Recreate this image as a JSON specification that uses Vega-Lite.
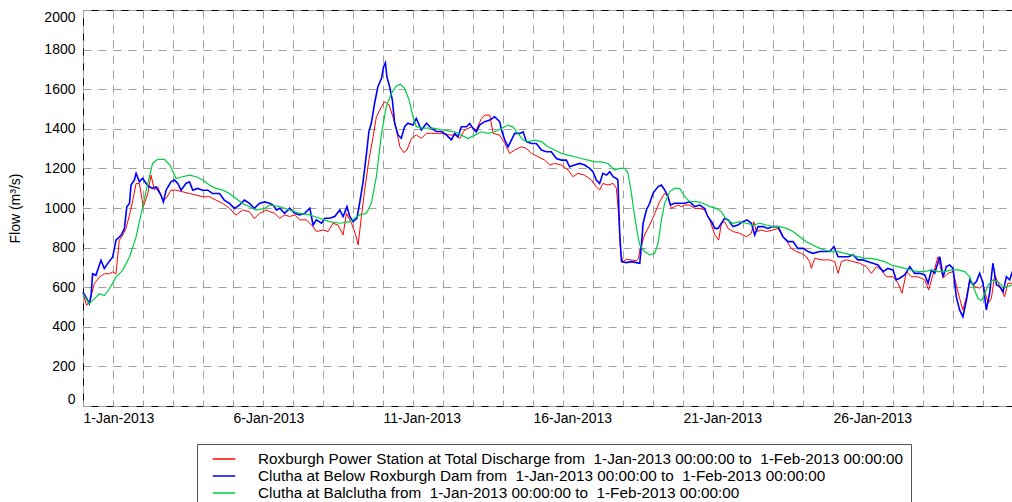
{
  "$schema": "https://vega.github.io/schema/vega-lite/v6.json",
  "width": 930,
  "height": 396,
  "autosize": "none",
  "padding": {"left": 83, "top": 10, "right": 0, "bottom": 96},
  "background": "white",
  "config": {
    "font": "Liberation Sans",
    "view": {"stroke": "#000", "strokeWidth": 1},
    "axis": {
      "labelFont": "Liberation Sans", "labelFontSize": 14, "labelColor": "#000",
      "titleFont": "Liberation Sans", "titleFontSize": 14, "titleFontWeight": "normal", "titleColor": "#000",
      "grid": true, "gridColor": "#a0a0a0", "gridDash": [8, 7], "gridWidth": 1,
      "ticks": false, "tickSize": 0, "domain": false
    }
  },
  "datasets": {
    "roxburgh_ps": [
      {"day":0,"flow":567},{"day":0.12,"flow":508},{"day":0.23,"flow":533},{"day":0.38,"flow":618},{"day":0.55,"flow":651},{"day":0.71,"flow":668},{"day":0.88,"flow":668},{"day":0.99,"flow":677},{"day":1.1,"flow":668},{"day":1.21,"flow":837},{"day":1.32,"flow":862},{"day":1.43,"flow":896},{"day":1.55,"flow":964},{"day":1.66,"flow":1040},{"day":1.77,"flow":1124},{"day":1.88,"flow":1124},{"day":2.01,"flow":1006},{"day":2.16,"flow":1073},{"day":2.27,"flow":1166},{"day":2.38,"flow":1090},{"day":2.49,"flow":1107},{"day":2.66,"flow":1040},{"day":2.77,"flow":1048},{"day":2.93,"flow":1090},{"day":3.1,"flow":1090},{"day":3.32,"flow":1082},{"day":3.55,"flow":1073},{"day":3.77,"flow":1065},{"day":3.99,"flow":1057},{"day":4.21,"flow":1057},{"day":4.43,"flow":1040},{"day":4.66,"flow":1023},{"day":4.88,"flow":998},{"day":5.1,"flow":964},{"day":5.32,"flow":990},{"day":5.55,"flow":981},{"day":5.71,"flow":947},{"day":5.88,"flow":972},{"day":6.1,"flow":990},
      {"day":6.22,"flow":982},{"day":6.39,"flow":973},{"day":6.56,"flow":948},{"day":6.72,"flow":965},{"day":6.89,"flow":957},{"day":7.06,"flow":965},{"day":7.22,"flow":940},{"day":7.45,"flow":940},{"day":7.67,"flow":906},{"day":7.78,"flow":881},{"day":8.0,"flow":889},{"day":8.17,"flow":881},{"day":8.33,"flow":923},{"day":8.5,"flow":914},{"day":8.67,"flow":864},{"day":8.78,"flow":973},{"day":8.95,"flow":923},{"day":9.09,"flow":864},{"day":9.17,"flow":813},{"day":9.28,"flow":957},{"day":9.39,"flow":1091},{"day":9.53,"flow":1243},{"day":9.67,"flow":1360},{"day":9.78,"flow":1461},{"day":9.95,"flow":1512},{"day":10.06,"flow":1537},{"day":10.2,"flow":1520},{"day":10.33,"flow":1461},{"day":10.45,"flow":1394},{"day":10.56,"flow":1310},{"day":10.69,"flow":1280},{"day":10.8,"flow":1293},{"day":10.95,"flow":1352},{"day":11.11,"flow":1369},{"day":11.28,"flow":1352},{"day":11.45,"flow":1377},{"day":11.61,"flow":1377},{"day":11.78,"flow":1377},{"day":12.0,"flow":1377},{"day":12.22,"flow":1369},
      {"day":12.39,"flow":1368},{"day":12.56,"flow":1351},{"day":12.72,"flow":1394},{"day":12.95,"flow":1410},{"day":13.11,"flow":1394},{"day":13.28,"flow":1452},{"day":13.39,"flow":1469},{"day":13.56,"flow":1469},{"day":13.67,"flow":1377},{"day":13.89,"flow":1368},{"day":14.06,"flow":1326},{"day":14.22,"flow":1276},{"day":14.39,"flow":1293},{"day":14.61,"flow":1309},{"day":14.78,"flow":1301},{"day":14.95,"flow":1276},{"day":15.17,"flow":1259},{"day":15.39,"flow":1242},{"day":15.56,"flow":1217},{"day":15.72,"flow":1225},{"day":15.95,"flow":1217},{"day":16.17,"flow":1192},{"day":16.33,"flow":1158},{"day":16.5,"flow":1175},{"day":16.72,"flow":1166},{"day":16.95,"flow":1141},{"day":17.11,"flow":1107},{"day":17.22,"flow":1091},{"day":17.33,"flow":1124},{"day":17.5,"flow":1116},{"day":17.67,"flow":1124},{"day":17.78,"flow":1099},{"day":17.86,"flow":956},{"day":17.92,"flow":771},{"day":18.0,"flow":729},{"day":18.11,"flow":741},{"day":18.28,"flow":737},{"day":18.45,"flow":734},{"day":18.52,"flow":746},
      {"day":18.56,"flow":788},{"day":18.72,"flow":864},{"day":18.89,"flow":914},{"day":19.06,"flow":973},{"day":19.22,"flow":1032},{"day":19.39,"flow":1074},{"day":19.5,"flow":1057},{"day":19.61,"flow":998},{"day":19.72,"flow":1007},{"day":19.83,"flow":1015},{"day":19.95,"flow":1007},{"day":20.06,"flow":1015},{"day":20.22,"flow":1015},{"day":20.39,"flow":998},{"day":20.56,"flow":998},{"day":20.72,"flow":990},{"day":20.89,"flow":940},{"day":21.06,"flow":864},{"day":21.19,"flow":838},{"day":21.28,"flow":923},{"day":21.39,"flow":931},{"day":21.5,"flow":897},{"day":21.67,"flow":881},{"day":21.89,"flow":872},{"day":22.11,"flow":855},{"day":22.28,"flow":872},{"day":22.36,"flow":931},{"day":22.45,"flow":881},{"day":22.61,"flow":889},{"day":22.78,"flow":881},{"day":23.0,"flow":889},{"day":23.17,"flow":897},{"day":23.33,"flow":855},{"day":23.47,"flow":830},{"day":23.61,"flow":796},{"day":23.78,"flow":780},{"day":23.95,"flow":771},{"day":24.11,"flow":754},{"day":24.22,"flow":729},{"day":24.28,"flow":695},{"day":24.39,"flow":746},{"day":24.61,"flow":738},
      {"day":24.72,"flow":738},{"day":24.89,"flow":738},{"day":25.06,"flow":729},{"day":25.17,"flow":670},{"day":25.28,"flow":729},{"day":25.45,"flow":738},{"day":25.67,"flow":729},{"day":25.89,"flow":721},{"day":26.11,"flow":704},{"day":26.28,"flow":670},{"day":26.45,"flow":704},{"day":26.61,"flow":687},{"day":26.78,"flow":653},{"day":27.0,"flow":653},{"day":27.17,"flow":620},{"day":27.3,"flow":569},{"day":27.45,"flow":679},{"day":27.61,"flow":653},{"day":27.83,"flow":653},{"day":28.06,"flow":637},{"day":28.19,"flow":586},{"day":28.33,"flow":662},{"day":28.5,"flow":754},{"day":28.67,"flow":645},{"day":28.83,"flow":670},{"day":29.0,"flow":679},{"day":29.11,"flow":611},{"day":29.22,"flow":544},{"day":29.33,"flow":485},{"day":29.45,"flow":552},{"day":29.56,"flow":637},{"day":29.72,"flow":603},{"day":29.89,"flow":595},{"day":30.0,"flow":611},{"day":30.17,"flow":519},{"day":30.28,"flow":544},{"day":30.39,"flow":662},{"day":30.56,"flow":603},{"day":30.72,"flow":552},{"day":30.83,"flow":620},{"day":30.96,"flow":620},{"day":31.0,"flow":625}
    ],
    "below_dam": [
      {"day":0,"flow":575},{"day":0.1,"flow":550},{"day":0.21,"flow":516},{"day":0.27,"flow":558},{"day":0.32,"flow":668},{"day":0.43,"flow":660},{"day":0.6,"flow":736},{"day":0.71,"flow":694},{"day":0.82,"flow":719},{"day":0.99,"flow":753},{"day":1.1,"flow":837},{"day":1.27,"flow":862},{"day":1.38,"flow":896},{"day":1.46,"flow":1006},{"day":1.55,"flow":1023},{"day":1.6,"flow":1116},{"day":1.71,"flow":1141},{"day":1.77,"flow":1175},{"day":1.88,"flow":1132},{"day":1.99,"flow":1150},{"day":2.1,"flow":1124},{"day":2.21,"flow":1107},{"day":2.32,"flow":1099},{"day":2.43,"flow":1107},{"day":2.6,"flow":1065},{"day":2.68,"flow":1031},{"day":2.77,"flow":1090},{"day":2.93,"flow":1132},{"day":3.05,"flow":1141},{"day":3.16,"flow":1124},{"day":3.27,"flow":1090},{"day":3.43,"flow":1124},{"day":3.55,"flow":1132},{"day":3.66,"flow":1090},{"day":3.82,"flow":1099},{"day":3.99,"flow":1090},{"day":4.16,"flow":1090},{"day":4.32,"flow":1073},{"day":4.55,"flow":1073},{"day":4.71,"flow":1040},{"day":4.88,"flow":1023},{"day":5.05,"flow":998},{"day":5.21,"flow":1014},{"day":5.38,"flow":1040},{"day":5.55,"flow":1023},{"day":5.71,"flow":998},{"day":5.88,"flow":1023},{"day":6.05,"flow":1031},
      {"day":6.22,"flow":1024},{"day":6.33,"flow":1015},{"day":6.45,"flow":990},{"day":6.56,"flow":999},{"day":6.72,"flow":973},{"day":6.89,"flow":999},{"day":7.06,"flow":973},{"day":7.22,"flow":965},{"day":7.39,"flow":973},{"day":7.56,"flow":999},{"day":7.67,"flow":914},{"day":7.78,"flow":940},{"day":7.95,"flow":923},{"day":8.06,"flow":948},{"day":8.22,"flow":948},{"day":8.39,"flow":957},{"day":8.56,"flow":990},{"day":8.67,"flow":957},{"day":8.8,"flow":1007},{"day":8.89,"flow":957},{"day":9.0,"flow":931},{"day":9.13,"flow":948},{"day":9.22,"flow":1024},{"day":9.33,"flow":1125},{"day":9.45,"flow":1276},{"day":9.53,"flow":1386},{"day":9.61,"flow":1428},{"day":9.72,"flow":1529},{"day":9.83,"flow":1613},{"day":9.95,"flow":1655},{"day":10.02,"flow":1714},{"day":10.08,"flow":1734},{"day":10.13,"flow":1663},{"day":10.22,"flow":1613},{"day":10.31,"flow":1546},{"day":10.39,"flow":1428},{"day":10.5,"flow":1369},{"day":10.61,"flow":1352},{"day":10.72,"flow":1411},{"day":10.83,"flow":1428},{"day":11.0,"flow":1419},{"day":11.11,"flow":1453},{"day":11.28,"flow":1394},{"day":11.45,"flow":1428},{"day":11.61,"flow":1403},{"day":11.78,"flow":1386},{"day":11.95,"flow":1386},{"day":12.11,"flow":1369},{"day":12.28,"flow":1344},
      {"day":12.39,"flow":1377},{"day":12.5,"flow":1360},{"day":12.61,"flow":1410},{"day":12.78,"flow":1410},{"day":12.89,"flow":1427},{"day":13.0,"flow":1402},{"day":13.11,"flow":1385},{"day":13.22,"flow":1419},{"day":13.39,"flow":1436},{"day":13.56,"flow":1444},{"day":13.72,"flow":1461},{"day":13.89,"flow":1436},{"day":13.95,"flow":1394},{"day":14.06,"flow":1343},{"day":14.17,"flow":1309},{"day":14.28,"flow":1343},{"day":14.39,"flow":1377},{"day":14.56,"flow":1377},{"day":14.67,"flow":1385},{"day":14.78,"flow":1335},{"day":14.95,"flow":1326},{"day":15.11,"flow":1326},{"day":15.28,"flow":1293},{"day":15.45,"flow":1284},{"day":15.61,"flow":1284},{"day":15.78,"flow":1250},{"day":15.95,"flow":1242},{"day":16.11,"flow":1242},{"day":16.22,"flow":1208},{"day":16.39,"flow":1217},{"day":16.56,"flow":1225},{"day":16.72,"flow":1217},{"day":16.89,"flow":1200},{"day":17.0,"flow":1183},{"day":17.11,"flow":1141},{"day":17.22,"flow":1124},{"day":17.33,"flow":1175},{"day":17.45,"flow":1166},{"day":17.56,"flow":1183},{"day":17.67,"flow":1158},{"day":17.78,"flow":1149},{"day":17.83,"flow":1141},{"day":17.89,"flow":872},{"day":17.95,"flow":729},{"day":18.11,"flow":724},{"day":18.28,"flow":729},{"day":18.45,"flow":724},
      {"day":18.56,"flow":721},{"day":18.61,"flow":805},{"day":18.67,"flow":923},{"day":18.78,"flow":990},{"day":18.89,"flow":1024},{"day":19.0,"flow":1074},{"day":19.17,"flow":1108},{"day":19.28,"flow":1116},{"day":19.39,"flow":1091},{"day":19.5,"flow":1057},{"day":19.58,"flow":1015},{"day":19.72,"flow":1024},{"day":19.89,"flow":1024},{"day":20.06,"flow":1024},{"day":20.22,"flow":1032},{"day":20.39,"flow":1007},{"day":20.56,"flow":1015},{"day":20.72,"flow":998},{"day":20.83,"flow":956},{"day":20.95,"flow":931},{"day":21.06,"flow":897},{"day":21.17,"flow":897},{"day":21.28,"flow":923},{"day":21.39,"flow":948},{"day":21.5,"flow":940},{"day":21.67,"flow":906},{"day":21.83,"flow":914},{"day":22.0,"flow":931},{"day":22.13,"flow":940},{"day":22.28,"flow":923},{"day":22.39,"flow":864},{"day":22.5,"flow":906},{"day":22.67,"flow":906},{"day":22.83,"flow":897},{"day":23.0,"flow":906},{"day":23.17,"flow":906},{"day":23.33,"flow":855},{"day":23.5,"flow":830},{"day":23.67,"flow":830},{"day":23.83,"flow":796},{"day":24.0,"flow":796},{"day":24.17,"flow":780},{"day":24.33,"flow":771},{"day":24.56,"flow":780},
      {"day":24.72,"flow":780},{"day":24.89,"flow":780},{"day":25.03,"flow":805},{"day":25.17,"flow":754},{"day":25.33,"flow":754},{"day":25.5,"flow":754},{"day":25.67,"flow":763},{"day":25.83,"flow":738},{"day":26.0,"flow":738},{"day":26.17,"flow":729},{"day":26.33,"flow":721},{"day":26.5,"flow":712},{"day":26.67,"flow":679},{"day":26.83,"flow":695},{"day":27.0,"flow":687},{"day":27.11,"flow":637},{"day":27.22,"flow":645},{"day":27.39,"flow":662},{"day":27.56,"flow":704},{"day":27.72,"flow":670},{"day":27.89,"flow":670},{"day":28.06,"flow":662},{"day":28.17,"flow":620},{"day":28.28,"flow":687},{"day":28.39,"flow":670},{"day":28.56,"flow":754},{"day":28.67,"flow":653},{"day":28.78,"flow":704},{"day":28.89,"flow":712},{"day":29.0,"flow":695},{"day":29.11,"flow":552},{"day":29.22,"flow":485},{"day":29.33,"flow":451},{"day":29.45,"flow":536},{"day":29.56,"flow":637},{"day":29.67,"flow":611},{"day":29.78,"flow":628},{"day":29.89,"flow":670},{"day":30.0,"flow":620},{"day":30.11,"flow":485},{"day":30.22,"flow":569},{"day":30.33,"flow":721},{"day":30.45,"flow":611},{"day":30.56,"flow":603},{"day":30.67,"flow":578},{"day":30.78,"flow":653},{"day":30.89,"flow":637},{"day":30.96,"flow":670},{"day":31.0,"flow":655}
    ],
    "balclutha": [
      {"day":0,"flow":567},{"day":0.21,"flow":516},{"day":0.38,"flow":542},{"day":0.55,"flow":567},{"day":0.71,"flow":558},{"day":0.88,"flow":592},{"day":1.1,"flow":651},{"day":1.32,"flow":685},{"day":1.55,"flow":753},{"day":1.77,"flow":854},{"day":1.99,"flow":1006},{"day":2.16,"flow":1124},{"day":2.32,"flow":1225},{"day":2.49,"flow":1246},{"day":2.71,"flow":1246},{"day":2.9,"flow":1217},{"day":3.1,"flow":1149},{"day":3.32,"flow":1158},{"day":3.55,"flow":1166},{"day":3.77,"flow":1158},{"day":3.99,"flow":1141},{"day":4.21,"flow":1116},{"day":4.43,"flow":1099},{"day":4.66,"flow":1090},{"day":4.88,"flow":1073},{"day":5.1,"flow":1048},{"day":5.32,"flow":1023},{"day":5.55,"flow":1006},{"day":5.77,"flow":989},{"day":6.05,"flow":998},
      {"day":6.22,"flow":1015},{"day":6.56,"flow":1007},{"day":6.89,"flow":990},{"day":7.22,"flow":973},{"day":7.56,"flow":965},{"day":7.89,"flow":948},{"day":8.22,"flow":931},{"day":8.56,"flow":923},{"day":8.89,"flow":931},{"day":9.22,"flow":965},{"day":9.45,"flow":973},{"day":9.61,"flow":1024},{"day":9.78,"flow":1158},{"day":9.95,"flow":1377},{"day":10.11,"flow":1512},{"day":10.28,"flow":1579},{"day":10.45,"flow":1616},{"day":10.58,"flow":1625},{"day":10.72,"flow":1604},{"day":10.87,"flow":1546},{"day":11.0,"flow":1461},{"day":11.11,"flow":1411},{"day":11.33,"flow":1403},{"day":11.67,"flow":1403},{"day":12.0,"flow":1394},{"day":12.33,"flow":1386},
      {"day":12.39,"flow":1385},{"day":12.61,"flow":1368},{"day":12.83,"flow":1351},{"day":13.06,"flow":1368},{"day":13.28,"flow":1385},{"day":13.5,"flow":1377},{"day":13.72,"flow":1385},{"day":13.95,"flow":1402},{"day":14.17,"flow":1419},{"day":14.33,"flow":1410},{"day":14.5,"flow":1377},{"day":14.67,"flow":1343},{"day":14.83,"flow":1335},{"day":15.06,"flow":1343},{"day":15.28,"flow":1335},{"day":15.5,"flow":1309},{"day":15.72,"flow":1293},{"day":15.95,"flow":1276},{"day":16.17,"flow":1267},{"day":16.39,"flow":1259},{"day":16.61,"flow":1250},{"day":16.83,"flow":1242},{"day":17.06,"flow":1233},{"day":17.28,"flow":1233},{"day":17.5,"flow":1225},{"day":17.72,"flow":1192},{"day":17.89,"flow":1200},{"day":18.06,"flow":1200},{"day":18.17,"flow":1175},{"day":18.28,"flow":1074},{"day":18.39,"flow":956},{"day":18.5,"flow":855},
      {"day":18.56,"flow":813},{"day":18.72,"flow":780},{"day":18.89,"flow":763},{"day":19.06,"flow":771},{"day":19.17,"flow":822},{"day":19.28,"flow":940},{"day":19.39,"flow":1024},{"day":19.56,"flow":1083},{"day":19.72,"flow":1099},{"day":19.89,"flow":1099},{"day":20.06,"flow":1057},{"day":20.22,"flow":1032},{"day":20.45,"flow":1032},{"day":20.67,"flow":1024},{"day":20.89,"flow":1007},{"day":21.11,"flow":998},{"day":21.28,"flow":982},{"day":21.45,"flow":940},{"day":21.67,"flow":923},{"day":21.89,"flow":931},{"day":22.11,"flow":923},{"day":22.33,"flow":914},{"day":22.56,"flow":923},{"day":22.78,"flow":914},{"day":23.0,"flow":906},{"day":23.22,"flow":906},{"day":23.45,"flow":897},{"day":23.67,"flow":881},{"day":23.89,"flow":855},{"day":24.11,"flow":830},{"day":24.33,"flow":813},{"day":24.56,"flow":796},
      {"day":24.72,"flow":788},{"day":24.95,"flow":780},{"day":25.17,"flow":780},{"day":25.39,"flow":771},{"day":25.61,"flow":763},{"day":25.83,"flow":754},{"day":26.06,"flow":746},{"day":26.28,"flow":746},{"day":26.5,"flow":738},{"day":26.72,"flow":729},{"day":26.95,"flow":712},{"day":27.17,"flow":704},{"day":27.39,"flow":695},{"day":27.61,"flow":687},{"day":27.83,"flow":679},{"day":28.06,"flow":679},{"day":28.28,"flow":687},{"day":28.5,"flow":679},{"day":28.72,"flow":679},{"day":28.95,"flow":687},{"day":29.17,"flow":687},{"day":29.39,"flow":679},{"day":29.56,"flow":653},{"day":29.72,"flow":586},{"day":29.83,"flow":544},{"day":29.95,"flow":532},{"day":30.06,"flow":569},{"day":30.17,"flow":611},{"day":30.33,"flow":637},{"day":30.5,"flow":628},{"day":30.67,"flow":603},{"day":30.83,"flow":603},{"day":30.96,"flow":611},{"day":31.0,"flow":615}
    ]
  },
  "encoding": {
    "x": {
      "field": "day", "type": "quantitative",
      "scale": {"domain": [0, 31], "nice": false, "zero": false},
      "axis": {
        "title": null,
        "values": [0,1,2,3,4,5,6,7,8,9,10,11,12,13,14,15,16,17,18,19,20,21,22,23,24,25,26,27,28,29,30,31],
        "labelExpr": "(datum.value % 5 == 0 && datum.value < 30) ? (datum.value + 1) + '-Jan-2013' : ''",
        "labelAlign": "left", "labelBaseline": "top", "labelPadding": 5,
        "labelOverlap": false, "labelBound": false, "labelFlush": false
      }
    },
    "y": {
      "field": "flow", "type": "quantitative",
      "scale": {"domain": [0, 2000], "nice": false},
      "axis": {
        "title": "Flow (m³/s)",
        "format": "d",
        "values": [0,200,400,600,800,1000,1200,1400,1600,1800,2000],
        "labelPadding": 8, "labelFlush": true, "labelOverlap": false,
        "titleX": -68, "titleY": 198, "titleAngle": -90, "titleAlign": "center", "titleBaseline": "middle"
      }
    }
  },
  "layer": [
    {
      "data": {"name": "roxburgh_ps"},
      "mark": {"type": "line", "strokeWidth": 1},
      "encoding": {
        "color": {
          "datum": "Roxburgh Power Station at Total Discharge from\u00a0 1-Jan-2013 00:00:00 to\u00a0 1-Feb-2013 00:00:00",
          "scale": {
            "domain": [
              "Roxburgh Power Station at Total Discharge from\u00a0 1-Jan-2013 00:00:00 to\u00a0 1-Feb-2013 00:00:00",
              "Clutha at Below Roxburgh Dam from\u00a0 1-Jan-2013 00:00:00 to\u00a0 1-Feb-2013 00:00:00",
              "Clutha at Balclutha from\u00a0 1-Jan-2013 00:00:00 to\u00a0 1-Feb-2013 00:00:00"
            ],
            "range": ["#ff0000", "#0000ff", "#00cc44"]
          },
          "legend": {
            "orient": "none", "legendX": 114, "legendY": 434, "title": null,
            "symbolType": "M-1.6,0H1.6", "symbolSize": 196, "symbolStrokeWidth": 1.5,
            "labelFont": "Liberation Sans", "labelFontSize": 15.3, "labelColor": "#000", "labelLimit": 0,
            "labelOffset": 26, "symbolOffset": 12, "padding": 7, "rowPadding": -3.5,
            "strokeColor": "#555", "fillColor": "white", "direction": "vertical"
          }
        }
      }
    },
    {
      "data": {"name": "below_dam"},
      "mark": {"type": "line", "strokeWidth": 1.6},
      "encoding": {"color": {"datum": "Clutha at Below Roxburgh Dam from\u00a0 1-Jan-2013 00:00:00 to\u00a0 1-Feb-2013 00:00:00"}}
    },
    {
      "data": {"name": "balclutha"},
      "mark": {"type": "line", "strokeWidth": 1.2},
      "encoding": {"color": {"datum": "Clutha at Balclutha from\u00a0 1-Jan-2013 00:00:00 to\u00a0 1-Feb-2013 00:00:00"}}
    }
  ]
}
